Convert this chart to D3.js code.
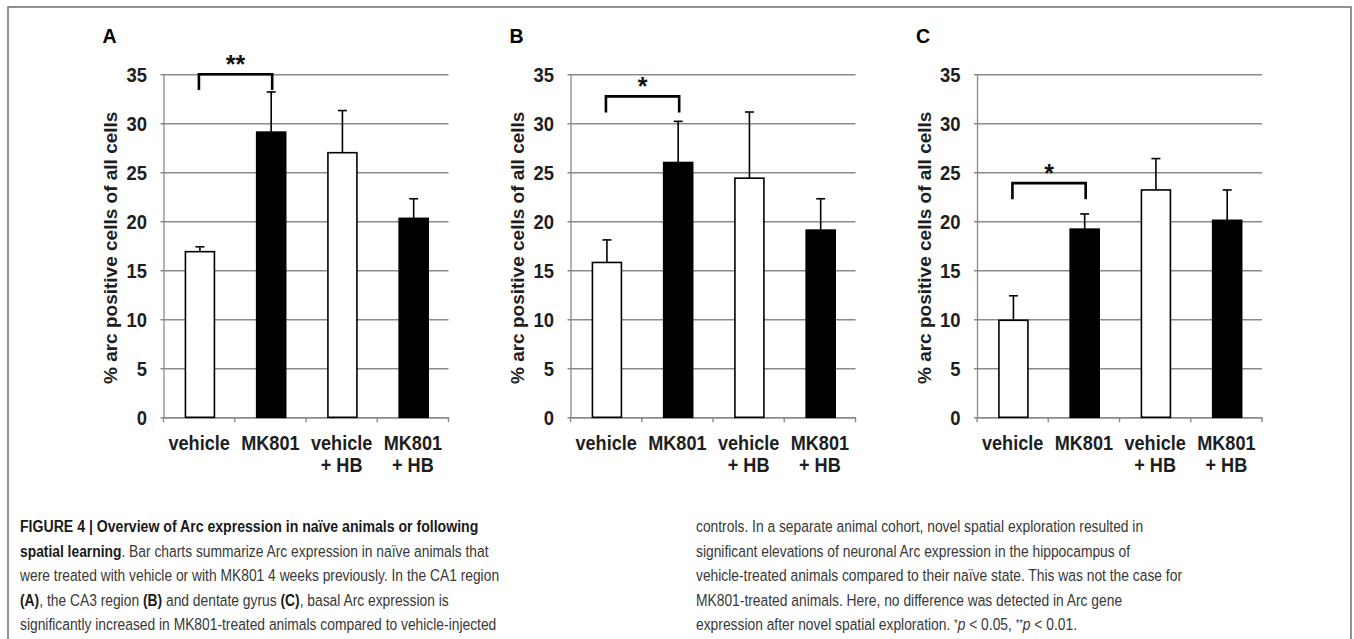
<!DOCTYPE html>
<html>
<head>
<meta charset="utf-8">
<script src="https://cdn.jsdelivr.net/npm/d3@7"></script>
<style>
  html, body { margin: 0; padding: 0; background: #fff; }
  svg { display: block; }
</style>
</head>
<body>
<svg id="chart" width="1354" height="639"></svg>
<script>
// ---------- data ----------
const categories = ["vehicle", "MK801", "vehicle + HB", "MK801 + HB"];
const categoryLines = [["vehicle"], ["MK801"], ["vehicle", "+ HB"], ["MK801", "+ HB"]];
const panelLabels = ["A", "B", "C"];
const yTicks = [0, 5, 10, 15, 20, 25, 30, 35];

const meansA = [16.9, 29.1, 27.0, 20.3];
const errorsA = [0.5, 4.1, 4.3, 2.0];
const meansB = [15.8, 26.0, 24.4, 19.1];
const errorsB = [2.3, 4.2, 6.75, 3.2];
const meansC = [9.9, 19.2, 23.2, 20.1];
const errorsC = [2.5, 1.55, 3.2, 3.1];

// significance brackets (vehicle vs MK801), in data units
const sigLabels = ["**", "*", "*"];
const bracketTop = [35.0, 32.75, 23.9];
const bracketLegEnd = [33.4, 31.1, 22.25];

const yTitle = "% arc positive cells of all cells";

const panels = [
  { label: panelLabels[0], means: meansA, errors: errorsA, sig: sigLabels[0], top: bracketTop[0], leg: bracketLegEnd[0] },
  { label: panelLabels[1], means: meansB, errors: errorsB, sig: sigLabels[1], top: bracketTop[1], leg: bracketLegEnd[1] },
  { label: panelLabels[2], means: meansC, errors: errorsC, sig: sigLabels[2], top: bracketTop[2], leg: bracketLegEnd[2] }
];

// ---------- layout ----------
const svg = d3.select("#chart");
const chartFont = "'Liberation Sans', Arial, sans-serif";
const capFont = "'Liberation Sans', Arial, sans-serif";
const textColor = "#1e1e1e";
const gridColor = "#8a8a8a";

// outer frame
svg.append("rect")
  .attr("x", 8).attr("y", 7).attr("width", 1343).attr("height", 700)
  .attr("fill", "none").attr("stroke", "#6e6e6e").attr("stroke-width", 1.5);

const plotLefts = [163.5, 570.5, 977];
const plotWidth = 285;
const y = d3.scaleLinear().domain([0, 35]).range([417.3, 74.3]);

panels.forEach((p, i) => {
  const left = plotLefts[i];
  const x = d3.scaleBand().domain(categories).range([left, left + plotWidth]).padding(0);
  const g = svg.append("g");

  // gridlines + y ticks
  const yAxis = d3.axisLeft(y).tickValues(yTicks).tickSize(-(plotWidth + 3)).tickPadding(15).tickSizeOuter(0);
  const ya = g.append("g").attr("transform", `translate(${left},0)`).call(yAxis);
  ya.select(".domain").attr("stroke", gridColor).attr("stroke-width", 1.3);
  ya.selectAll(".tick line")
    .attr("x1", -3).attr("x2", plotWidth)
    .attr("stroke", gridColor).attr("stroke-width", 1.6);
  ya.selectAll(".tick text")
    .attr("fill", textColor).attr("font-family", chartFont)
    .attr("font-weight", "bold").attr("font-size", 20.5)
    .attr("x", -16.5 / 0.9).attr("dy", "0.36em")
    .attr("transform", "scale(0.9,1)");

  // x axis
  const xAxis = d3.axisBottom(x).tickValues([]).tickSizeOuter(0);
  const xa = g.append("g").attr("transform", `translate(0,${y(0)})`).call(xAxis);
  xa.select(".domain").attr("stroke", gridColor).attr("stroke-width", 1.6);
  const boundaries = d3.range(categories.length + 1).map(k => left + k * x.bandwidth());
  xa.selectAll("line.bt").data(boundaries).join("line").attr("class", "bt")
    .attr("x1", d => d).attr("x2", d => d).attr("y1", 0).attr("y2", 5)
    .attr("stroke", gridColor).attr("stroke-width", 1.4);

  // x labels
  const labels = g.selectAll("text.xl").data(categories).join("text").attr("class", "xl")
    .attr("text-anchor", "middle")
    .attr("transform", c => `translate(${x(c) + x.bandwidth() / 2},0) scale(0.93,1)`)
    .attr("font-family", chartFont).attr("font-weight", "bold").attr("font-size", 19.5)
    .attr("fill", textColor);
  labels.each(function (c, k) {
    const t = d3.select(this);
    categoryLines[k].forEach((line, li) => {
      t.append("tspan").attr("x", 0).attr("y", 450.5 + li * 22).text(line);
    });
  });

  // bars
  const barW = 29;
  const data = categories.map((c, k) => ({ c, m: p.means[k], e: p.errors[k] }));
  const cx = d => x(d.c) + x.bandwidth() / 2 + 0.8;
  g.selectAll("rect.bar").data(data).join("rect").attr("class", "bar")
    .attr("x", d => cx(d) - barW / 2).attr("width", barW)
    .attr("y", d => y(d.m)).attr("height", d => y(0) - y(d.m))
    .attr("fill", d => d.c.startsWith("MK801") ? "#000" : "#fff")
    .attr("stroke", "#000").attr("stroke-width", 1.6);

  // error bars (upper)
  g.selectAll("line.err").data(data).join("line").attr("class", "err")
    .attr("x1", cx).attr("x2", cx)
    .attr("y1", d => y(d.m)).attr("y2", d => y(d.m + d.e))
    .attr("stroke", "#000").attr("stroke-width", 1.6);
  g.selectAll("line.cap").data(data).join("line").attr("class", "cap")
    .attr("x1", d => cx(d) - 4.5).attr("x2", d => cx(d) + 4.5)
    .attr("y1", d => y(d.m + d.e)).attr("y2", d => y(d.m + d.e))
    .attr("stroke", "#000").attr("stroke-width", 1.6);

  // significance bracket
  const bx1 = cx(data[0]) - 1, bx2 = cx(data[1]) + 1;
  g.append("path")
    .attr("d", `M${bx1},${y(p.leg)} V${y(p.top)} H${bx2} V${y(p.leg)}`)
    .attr("fill", "none").attr("stroke", "#000").attr("stroke-width", 2.6);
  g.append("text")
    .attr("x", (bx1 + bx2) / 2).attr("y", y(p.top) - 1)
    .attr("text-anchor", "middle")
    .attr("font-family", chartFont).attr("font-weight", "bold").attr("font-size", 25)
    .attr("fill", "#111").text(p.sig);

  // y title
  const ty = (y(0) + y(35)) / 2 + 2;
  g.append("text")
    .attr("transform", `translate(${left - 53},${ty}) rotate(-90)`)
    .attr("text-anchor", "middle").attr("dy", "0.35em")
    .attr("font-family", chartFont).attr("font-weight", "bold").attr("font-size", 19)
    .attr("fill", textColor).text(yTitle);

  // panel label
  g.append("text")
    .attr("x", left - 61).attr("y", 43)
    .attr("font-family", chartFont).attr("font-weight", "bold").attr("font-size", 19.5)
    .attr("fill", "#000").text(p.label);
});

// ---------- caption ----------
const captionLeft = [
  [["FIGURE 4 | Overview of Arc expression in naïve animals or following", "b"]],
  [["spatial learning", "b"], [". Bar charts summarize Arc expression in naïve animals that", "r"]],
  [["were treated with vehicle or with MK801 4 weeks previously. In the CA1 region", "r"]],
  [["(A)", "b"], [", the CA3 region ", "r"], ["(B)", "b"], [" and dentate gyrus ", "r"], ["(C)", "b"], [", basal Arc expression is", "r"]],
  [["significantly increased in MK801-treated animals compared to vehicle-injected", "r"]]
];
const captionRight = [
  [["controls. In a separate animal cohort, novel spatial exploration resulted in", "r"]],
  [["significant elevations of neuronal Arc expression in the hippocampus of", "r"]],
  [["vehicle-treated animals compared to their naïve state. This was not the case for", "r"]],
  [["MK801-treated animals. Here, no difference was detected in Arc gene", "r"]],
  [["expression after novel spatial exploration. ", "r"], ["*", "s"], ["p", "i"], [" < 0.05, ", "r"], ["**", "s"], ["p", "i"], [" < 0.01.", "r"]]
];
const capBaselines = [532, 556.5, 581, 605.5, 630];

function drawCaption(lines, x0) {
  lines.forEach((segs, li) => {
    const allBold = segs.length === 1 && segs[0][1] === "b";
    const t = svg.append("text")
      .attr("transform", `translate(${x0},${capBaselines[li]}) scale(${allBold ? 0.81 : 0.795},1)`)
      .attr("x", 0).attr("y", 0)
      .attr("font-family", capFont).attr("font-size", 17.4)
      .attr("fill", "#383838");
    segs.forEach(([s, kind]) => {
      const ts = t.append("tspan").text(s);
      if (kind === "b") ts.attr("font-weight", "bold").attr("fill", "#1a1a1a");
      if (kind === "i") ts.attr("font-style", "italic");
      if (kind === "s") ts.attr("font-size", 11.5).attr("baseline-shift", "35%");
    });
  });
}
drawCaption(captionLeft, 20);
drawCaption(captionRight, 696);
</script>
</body>
</html>
